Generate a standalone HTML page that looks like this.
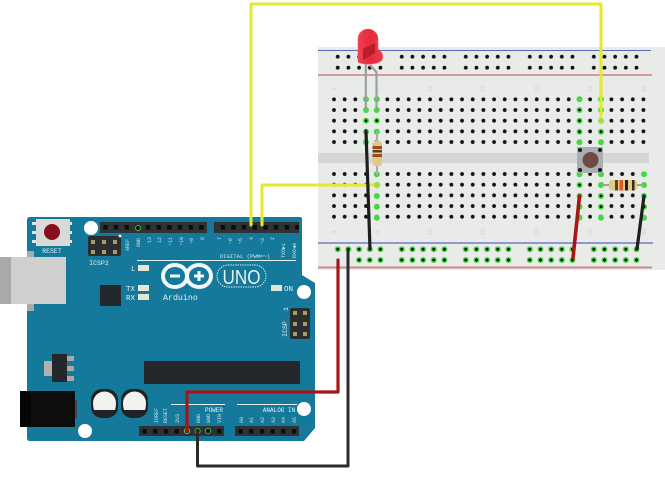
<!DOCTYPE html>
<html><head><meta charset="utf-8">
<style>
html,body{margin:0;padding:0;background:#fff;width:665px;height:500px;overflow:hidden}
svg{display:block}
text{font-family:"Liberation Mono",monospace}
</style></head>
<body>
<svg width="665" height="500" viewBox="0 0 665 500" xmlns="http://www.w3.org/2000/svg">
<defs>
<pattern id="bbdots" x="328.67" y="94" width="10.67" height="10.67" patternUnits="userSpaceOnUse">
<circle cx="5.33" cy="5.33" r="1.9" fill="#111"/>
</pattern>
<pattern id="raildots" x="332.4" y="0" width="10.67" height="500" patternUnits="userSpaceOnUse">
<circle cx="5.33" cy="56.7" r="1.9" fill="#111"/>
<circle cx="5.33" cy="67.7" r="1.9" fill="#111"/>
</pattern>
<pattern id="rail2" x="332.4" y="0" width="10.67" height="500" patternUnits="userSpaceOnUse">
<circle cx="5.33" cy="249.3" r="3" fill="#3fdc3f"/>
<circle cx="5.33" cy="249.3" r="1.5" fill="#111"/>
<circle cx="5.33" cy="260" r="3" fill="#3fdc3f"/>
<circle cx="5.33" cy="260" r="1.5" fill="#111"/>
</pattern>
<pattern id="pins" x="100" y="222" width="10.67" height="11" patternUnits="userSpaceOnUse">
<rect x="3.2" y="3" width="4.4" height="4.6" fill="#0c0c0c"/>
</pattern>
<pattern id="pins2" x="139.2" y="426" width="10.67" height="11" patternUnits="userSpaceOnUse">
<rect x="3.2" y="3" width="4.4" height="4.6" fill="#0c0c0c"/>
</pattern>
<linearGradient id="ledg" x1="0" y1="0" x2="1" y2="0">
<stop offset="0" stop-color="#f0404f"/><stop offset=".5" stop-color="#e52a3a"/><stop offset="1" stop-color="#ee3a50"/>
</linearGradient>
</defs>

<!-- Breadboard -->
<rect x="318" y="47" width="347" height="223" fill="#e9ebe8"/>
<rect x="318" y="153" width="331" height="10" fill="#d6d7d5"/>
<line x1="318" y1="50.5" x2="651" y2="50.5" stroke="#5a68b8" stroke-width="1"/>
<line x1="318" y1="75" x2="652" y2="75" stroke="#c4474f" stroke-width="1"/>
<line x1="318" y1="243" x2="653" y2="243" stroke="#8e98cf" stroke-width="2"/>
<line x1="318" y1="267.5" x2="652" y2="267.5" stroke="#c98a8a" stroke-width="2"/>
<rect x="329" y="94" width="320" height="53.4" fill="url(#bbdots)"/>
<rect x="329" y="169" width="320" height="53.4" fill="url(#bbdots)"/>
<g fill="#cfd2cf" font-size="6" text-anchor="middle">
<text x="334" y="91" transform="rotate(-90 334 89)">1</text>
<text x="377" y="91" transform="rotate(-90 377 89)">5</text>
<text x="430" y="91" transform="rotate(-90 430 89)">10</text>
<text x="483" y="91" transform="rotate(-90 483 89)">15</text>
<text x="537" y="91" transform="rotate(-90 537 89)">20</text>
<text x="590" y="91" transform="rotate(-90 590 89)">25</text>
<text x="644" y="91" transform="rotate(-90 644 89)">30</text>
<text x="334" y="234" transform="rotate(-90 334 232)">1</text>
<text x="377" y="234" transform="rotate(-90 377 232)">5</text>
<text x="430" y="234" transform="rotate(-90 430 232)">10</text>
<text x="483" y="234" transform="rotate(-90 483 232)">15</text>
<text x="537" y="234" transform="rotate(-90 537 232)">20</text>
<text x="590" y="234" transform="rotate(-90 590 232)">25</text>
<text x="644" y="234" transform="rotate(-90 644 232)">30</text>
</g>
<g fill="url(#raildots)">
<rect x="332.4" y="52" width="53" height="20"/>
<rect x="396.4" y="52" width="53" height="20"/>
<rect x="460.4" y="52" width="53.3" height="20"/>
<rect x="524.7" y="52" width="53.3" height="20"/>
<rect x="588.7" y="52" width="53.3" height="20"/>
</g>
<g fill="url(#rail2)">
<rect x="332.4" y="245" width="53" height="19"/>
<rect x="396.4" y="245" width="53" height="19"/>
<rect x="460.4" y="245" width="53.3" height="19"/>
<rect x="524.7" y="245" width="53.3" height="19"/>
<rect x="588.7" y="245" width="53.3" height="19"/>
</g>
<rect x="332" y="255" width="21" height="10" fill="#e9ebe8"/>

<!-- Green connected holes -->
<g fill="#3fdc3f">
<circle cx="366" cy="99.3" r="3"/><circle cx="366" cy="110" r="3"/><circle cx="366" cy="120.7" r="3"/><circle cx="366" cy="131.7" r="3"/><circle cx="366" cy="142.3" r="3"/>
<circle cx="376.8" cy="99.3" r="3"/><circle cx="376.8" cy="110" r="3"/><circle cx="376.8" cy="120.7" r="3"/><circle cx="376.8" cy="131.7" r="3"/>
<circle cx="376.8" cy="174.3" r="3"/><circle cx="376.8" cy="196" r="3"/><circle cx="376.8" cy="206.7" r="3"/><circle cx="376.8" cy="217.7" r="3"/>
<circle cx="579.5" cy="99.3" r="3"/><circle cx="579.5" cy="110" r="3"/><circle cx="579.5" cy="120.7" r="3"/><circle cx="579.5" cy="131.7" r="3"/><circle cx="579.5" cy="142.3" r="3"/>
<circle cx="601" cy="99.3" r="3"/><circle cx="601" cy="110" r="3"/><circle cx="601" cy="131.7" r="3"/><circle cx="601" cy="142.3" r="3"/>
<circle cx="579.5" cy="174.3" r="3"/><circle cx="579.5" cy="185" r="3"/><circle cx="579.5" cy="196" r="3"/><circle cx="579.5" cy="206.7" r="3"/><circle cx="579.5" cy="217.7" r="3"/>
<circle cx="601" cy="174.3" r="3"/><circle cx="601" cy="185" r="3"/><circle cx="601" cy="196" r="3"/><circle cx="601" cy="206.7" r="3"/><circle cx="601" cy="217.7" r="3"/>
<circle cx="644" cy="174.3" r="3"/><circle cx="644" cy="185" r="3"/><circle cx="644" cy="196" r="3"/><circle cx="644" cy="206.7" r="3"/><circle cx="644" cy="217.7" r="3"/>
</g>
<g fill="#111">
<circle cx="366" cy="120.7" r="1.4"/><circle cx="376.8" cy="120.7" r="1.4"/>
<circle cx="579.5" cy="110" r="1.4"/><circle cx="579.5" cy="120.7" r="1.4"/><circle cx="579.5" cy="131.7" r="1.4"/>
<circle cx="601" cy="131.7" r="1.4"/><circle cx="579.5" cy="185" r="1.4"/>
<circle cx="601" cy="196" r="1.4"/><circle cx="601" cy="206.7" r="1.4"/>
<circle cx="644" cy="206.7" r="1.4"/>
</g>

<!-- Arduino board -->
<path d="M30 217H300Q302 217 302 219V275L315 283V428L304 441H30Q27 441 27 438V220Q27 217 30 217Z" fill="#14799a"/>
<!-- USB -->
<rect x="27" y="251" width="7" height="60" fill="#a7aaa9"/>
<rect x="0" y="257" width="66" height="47" fill="#cfcfcd"/>
<rect x="0" y="257" width="11" height="47" fill="#a9aaa8"/>
<!-- Reset -->
<g fill="#e3e3e1">
<rect x="32" y="222" width="40" height="3"/><rect x="32" y="231" width="40" height="3"/><rect x="32" y="240" width="40" height="3"/>
</g>
<rect x="36" y="219" width="34" height="27" fill="#d9d9d7"/>
<circle cx="52" cy="232" r="8" fill="#8a0f1c"/>
<text x="52" y="253" font-size="6.5" fill="#e8f2f4" text-anchor="middle">RESET</text>
<!-- Holes -->
<g fill="#fff">
<circle cx="91" cy="228" r="7"/><circle cx="304" cy="292" r="7"/><circle cx="85" cy="431" r="7"/><circle cx="304" cy="409" r="7"/>
</g>
<!-- Headers -->
<rect x="100" y="222" width="107" height="11" fill="#2e3235"/>
<rect x="214" y="222" width="85" height="11" fill="#2e3235"/>
<rect x="100" y="222" width="107" height="11" fill="url(#pins)"/>
<rect x="214" y="222" width="85" height="11" fill="url(#pins)"/>
<rect x="139" y="426" width="85" height="10" fill="#2e3235"/>
<rect x="235" y="426" width="64" height="10" fill="#2e3235"/>
<rect x="139" y="426" width="85" height="11" fill="url(#pins2)"/>
<rect x="235" y="426" width="64" height="11" fill="url(#pins2)"/>
<circle cx="138" cy="228" r="2.6" fill="none" stroke="#3fae3f" stroke-width="1"/>
<circle cx="208" cy="431" r="2.6" fill="none" stroke="#3fae3f" stroke-width="1"/>
<circle cx="187" cy="431" r="2.6" fill="none" stroke="#6ec23a" stroke-width="1"/>
<circle cx="197.6" cy="431" r="2.6" fill="none" stroke="#3fae3f" stroke-width="1"/>
<!-- ICSP2 -->
<rect x="88" y="236" width="33" height="20" rx="2" fill="#2a2e31"/>
<g fill="#a59d68">
<rect x="91" y="240" width="4" height="4"/><rect x="102" y="240" width="4" height="4"/><rect x="113" y="240" width="4" height="4"/>
<rect x="91" y="250" width="4" height="4"/><rect x="102" y="250" width="4" height="4"/><rect x="113" y="250" width="4" height="4"/>
</g>
<circle cx="120" cy="236" r="1.4" fill="#fff"/>
<text x="99" y="265" font-size="6.5" fill="#e8f2f4" text-anchor="middle">ICSP2</text>
<!-- ICSP -->
<rect x="290" y="308" width="20" height="31" rx="2" fill="#2a2e31"/>
<g fill="#a59d68">
<rect x="293" y="311" width="4" height="4"/><rect x="303" y="311" width="4" height="4"/>
<rect x="293" y="322" width="4" height="4"/><rect x="303" y="322" width="4" height="4"/>
<rect x="293" y="332" width="4" height="4"/><rect x="303" y="332" width="4" height="4"/>
</g>
<text x="287" y="329" font-size="6.5" fill="#e8f2f4" text-anchor="middle" transform="rotate(-90 287 329)">ICSP</text>
<text x="288" y="313" font-size="6.5" fill="#e8f2f4" text-anchor="middle" transform="rotate(-90 286 311)">1</text>
<!-- Digital labels -->
<line x1="137" y1="260.5" x2="296" y2="260.5" stroke="#e8f2f4" stroke-width="1"/>
<text x="245" y="258" font-size="5.6" fill="#d7e8ec" text-anchor="middle">DIGITAL (PWM=~)</text>
<g fill="#cfe3e8" font-size="5" text-anchor="start">
<text transform="translate(129,251) rotate(-90)">AREF</text>
<text transform="translate(140,247) rotate(-90)">GND</text>
<text transform="translate(151,243) rotate(-90)">13</text>
<text transform="translate(161,243) rotate(-90)">12</text>
<text transform="translate(172,246) rotate(-90)">~11</text>
<text transform="translate(183,246) rotate(-90)">~10</text>
<text transform="translate(193,244) rotate(-90)">~9</text>
<text transform="translate(204,240) rotate(-90)">8</text>
<text transform="translate(221,240) rotate(-90)">7</text>
<text transform="translate(232,244) rotate(-90)">~6</text>
<text transform="translate(242,244) rotate(-90)">~5</text>
<text transform="translate(253,240) rotate(-90)">4</text>
<text transform="translate(264,244) rotate(-90)">~3</text>
<text transform="translate(274,240) rotate(-90)">2</text>
<text transform="translate(285,258) rotate(-90)">TXO►1</text>
<text transform="translate(296,258) rotate(-90)">RXO◄0</text>
</g>
<!-- LEDs on board -->
<g fill="#e6e6d8">
<rect x="138" y="265" width="11" height="6"/><rect x="138" y="285" width="11" height="6"/><rect x="138" y="294" width="11" height="6"/><rect x="271" y="285" width="11" height="6"/>
</g>
<g fill="#e8f2f4" font-size="7.5">
<text x="131" y="271">L</text><text x="126" y="291">TX</text><text x="126" y="300">RX</text><text x="284" y="291">ON</text>
</g>
<!-- Logo -->
<g fill="none" stroke="#f2f7f8" stroke-width="4">
<path d="M187 276c0-7-6-11-12-11-9 0-12 7-12 11s3 11 12 11c6 0 12-4 12-11zM187 276c0-7 6-11 12-11 8 0 12 6 12 11s-4 11-12 11c-6 0-12-4-12-11z"/>
</g>
<g fill="#f2f7f8"><rect x="170" y="274.5" width="10" height="3"/><rect x="194" y="274.5" width="10" height="3"/><rect x="197.5" y="271" width="3" height="10"/></g>
<rect x="217" y="265" width="49" height="22" rx="11" fill="none" stroke="#e9f2f4" stroke-width="1" stroke-dasharray="1.4 1"/>
<text x="241.500" y="284" font-size="20" fill="#e9f2f4" text-anchor="middle" style="font-family:'Liberation Sans',sans-serif" textLength="38" lengthAdjust="spacingAndGlyphs">UNO</text>
<text x="163" y="300" font-size="8.3" fill="#e9f2f4">Arduino</text>
<!-- Components -->
<rect x="100" y="285" width="21" height="21" fill="#24282c"/>
<rect x="44" y="361" width="9" height="15" fill="#aeb3b0"/>
<g fill="#a8aaa6"><rect x="66" y="356" width="8" height="5"/><rect x="66" y="366" width="8" height="5"/><rect x="66" y="376" width="8" height="5"/></g>
<rect x="52" y="354" width="15" height="28" fill="#24282c"/>
<rect x="144" y="361" width="156" height="23" fill="#24282c"/>
<rect x="20" y="391" width="55" height="36" fill="#0e0e0e"/>
<rect x="20" y="391" width="11" height="36" fill="#050505"/>
<rect x="75" y="400" width="2" height="18" fill="#444"/>
<g>
<rect x="91" y="389" width="27" height="29" rx="11" fill="#1f2326"/>
<rect x="121" y="389" width="27" height="29" rx="11" fill="#1f2326"/>
<path d="M93 403A11.500 11.500 0 1 1 116 403Q116 407 115 410H94Q93 407 93 403Z" fill="#f2f2ef"/>
<path d="M123 403A11.500 11.500 0 1 1 146 403Q146 407 145 410H124Q123 407 123 403Z" fill="#f2f2ef"/>
</g>
<!-- Bottom labels -->
<line x1="171" y1="404.500" x2="225" y2="404.500" stroke="#e8f2f4" stroke-width="1"/>
<line x1="237" y1="404.500" x2="297" y2="404.500" stroke="#e8f2f4" stroke-width="1"/>
<text x="214" y="412" font-size="6" fill="#e8f2f4" text-anchor="middle">POWER</text>
<text x="279" y="412" font-size="6" fill="#e8f2f4" text-anchor="middle">ANALOG IN</text>
<g fill="#cfe3e8" font-size="5">
<text transform="translate(158,423) rotate(-90)">IOREF</text>
<text transform="translate(167,423) rotate(-90)">RESET</text>
<text transform="translate(179,423) rotate(-90)">3V3</text>
<text transform="translate(200,423) rotate(-90)">GND</text>
<text transform="translate(210,423) rotate(-90)">GND</text>
<text transform="translate(221,423) rotate(-90)">VIN</text>
<text transform="translate(243,423) rotate(-90)">A0</text>
<text transform="translate(253,423) rotate(-90)">A1</text>
<text transform="translate(264,423) rotate(-90)">A2</text>
<text transform="translate(275,423) rotate(-90)">A3</text>
<text transform="translate(285,423) rotate(-90)">A4</text>
<text transform="translate(296,423) rotate(-90)">A5</text>
</g>

<!-- Resistors -->
<line x1="377" y1="131" x2="377" y2="175" stroke="#a9adab" stroke-width="2"/>
<rect x="372.500" y="141" width="9.500" height="25" rx="3" fill="#e2c98b"/>
<g fill="#9a4a22"><rect x="372.500" y="146" width="9.500" height="3"/><rect x="372.500" y="154" width="9.500" height="3"/></g>
<rect x="372.500" y="150" width="9.500" height="2.500" fill="#6d3a1e"/>
<line x1="601" y1="185" x2="644" y2="185" stroke="#8ab08a" stroke-width="2"/>
<rect x="609" y="180" width="28" height="10.500" rx="3" fill="#e2c98b"/>
<rect x="615" y="180" width="3" height="10.500" fill="#6d3a1e"/><rect x="619.500" y="180" width="3.500" height="10.500" fill="#dd5a20"/><rect x="625" y="180" width="3" height="10.500" fill="#222"/><rect x="632" y="180" width="2.500" height="10.500" fill="#3a2a1a"/>
<!-- Button -->
<rect x="577" y="147" width="26" height="26" fill="#a9aeb1"/>
<g fill="#1a1a1a"><circle cx="580" cy="150" r="2"/><circle cx="600" cy="150" r="2"/><circle cx="580" cy="170" r="2"/><circle cx="600" cy="170" r="2"/></g>
<circle cx="590.500" cy="160" r="8" fill="#6f4a44"/>

<!-- LED legs and body -->
<g fill="none" stroke="#9aa0a0" stroke-width="2.200">
<path d="M365.800 62V110"/>
<path d="M370 65L376.500 72V110"/>
</g>
<path d="M358 59V39A10 10 0 0 1 378 39V49C383 52 384 58 381 61C376 65 363 65 358 62Z" fill="url(#ledg)" stroke="#ee5b68" stroke-width=".6"/>
<path d="M363 49L375 43V53L363 60Z" fill="#b81d2c"/>

<!-- Wires -->
<g fill="none" stroke-linejoin="round" stroke-linecap="round">
<path d="M251 225V4H601V121" stroke="#e6e82a" stroke-width="3"/>
<path d="M262 225V185H377" stroke="#e6e82a" stroke-width="3"/>
<path d="M187 431V392H338V260" stroke="#a51717" stroke-width="3.200"/>
<path d="M197.500 431V466H348V249" stroke="#2a2a2a" stroke-width="3"/>
<path d="M366 131L370 249" stroke="#1e1e1e" stroke-width="3.200"/>
<path d="M579.500 196L573 258" stroke="#a51717" stroke-width="3.600"/>
<path d="M644 196L637 249" stroke="#1e1e1e" stroke-width="3.200"/>
</g>
<circle cx="377" cy="185" r="3.200" fill="#a5dd4a"/>
<circle cx="601" cy="121" r="3" fill="#a5dd4a"/>
</svg>
</body></html>
